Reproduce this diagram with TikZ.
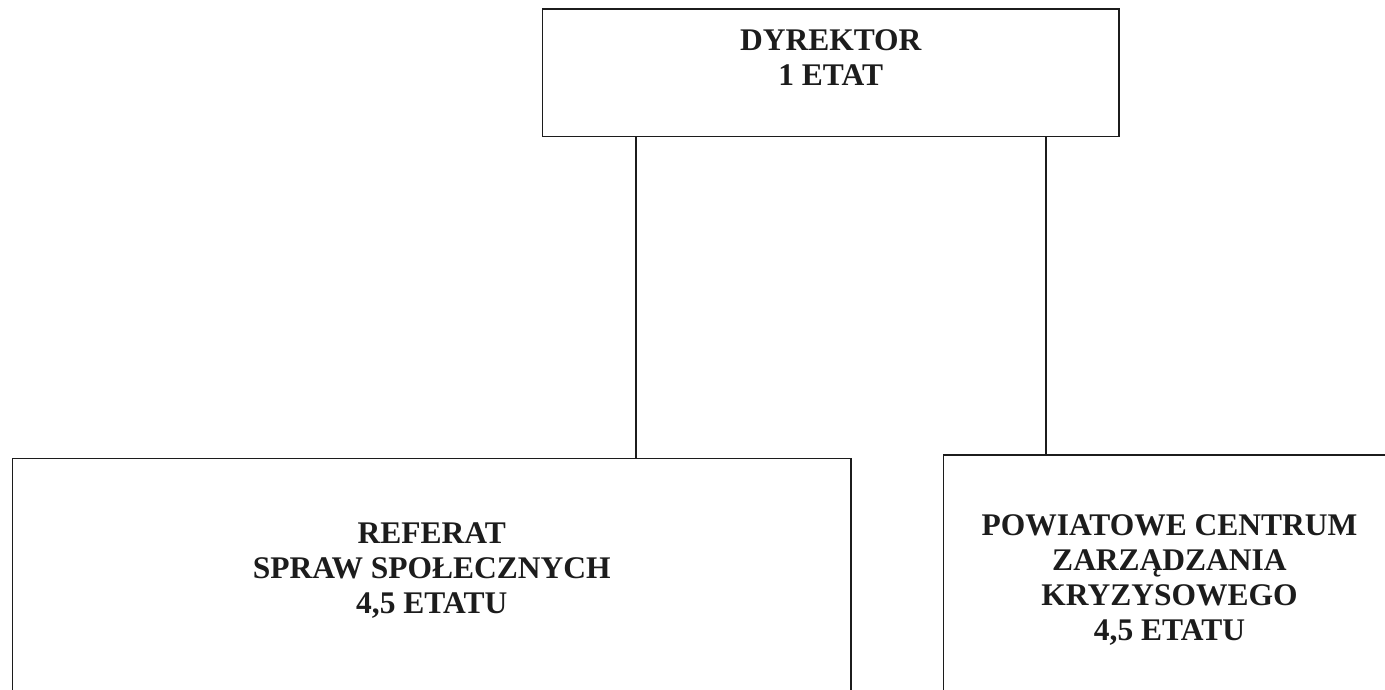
\documentclass[tikz,border=0pt]{standalone}
\usepackage{fontspec}
\setmainfont{Liberation Serif}
\usetikzlibrary{calc, positioning}
\definecolor{ink}{HTML}{1C1C1C}
\tikzset{el/.style={line cap=rect, line join=miter},
  unit/.style={draw=ink, line width=1.6pt, inner sep=0pt, outer sep=0pt, align=center,
    font=\bfseries\fontsize{31.5}{35}\selectfont, text=ink},
  link/.style={draw=ink, line width=1.6pt}}
\begin{document}
\begin{tikzpicture}[el, x=1pt, y=-1pt]
  \clip (0,0) rectangle (1385,689);
  \node[unit, minimum width=576.5pt, minimum height=127.5pt, text depth=30pt] (dyr) at (830.75,72.75) {DYREKTOR\\1 ETAT};
  \node[unit, minimum width=838.5pt, minimum height=240pt, text depth=21pt] (ref) at (431.75,578.5) {REFERAT\\SPRAW SPOŁECZNYCH\\4,5 ETATU};
  \node[unit, minimum width=452pt, minimum height=260pt, text depth=14pt] (pczk) at (1169.5,585) {POWIATOWE CENTRUM\\ZARZĄDZANIA\\KRYZYSOWEGO\\4,5 ETATU};
  \coordinate (a1) at ($(dyr.south west)!0.162!(dyr.south east)$);
  \coordinate (a2) at ($(dyr.south west)!0.873!(dyr.south east)$);
  \draw[link] (a1) -- (a1 |- ref.north);
  \draw[link] (a2) -- (a2 |- pczk.north);
\end{tikzpicture}
\end{document}
